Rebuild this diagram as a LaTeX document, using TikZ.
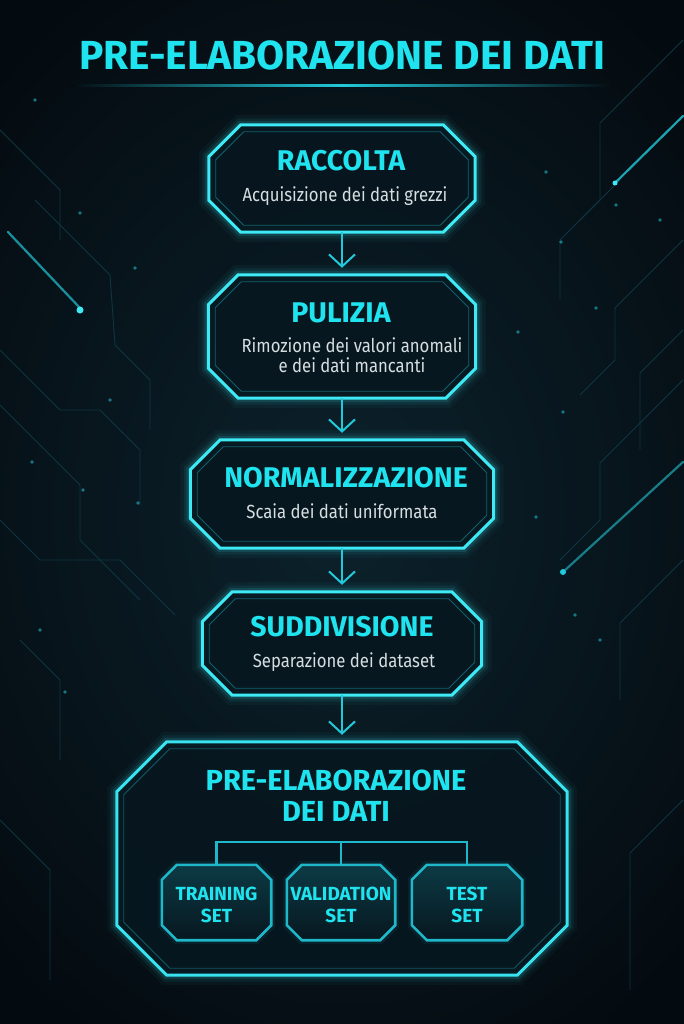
\documentclass[tikz,border=0pt]{standalone}
\usepackage{fontspec}
\setmainfont{Fira Sans}
\newfontfamily\subfont{Fira Sans}[FakeStretch=0.88]
\usetikzlibrary{calc,arrows.meta,positioning}
\definecolor{bgdark}{HTML}{040B10}
\definecolor{bgmid}{HTML}{0C222C}
\definecolor{neon}{HTML}{3DEAF5}
\definecolor{neontext}{HTML}{1FE3EE}
\definecolor{neonarrow}{HTML}{22C9DA}
\definecolor{neondim}{HTML}{1FB8CB}
\definecolor{tracec}{HTML}{0F3542}
\definecolor{boxfill}{HTML}{07171F}
\definecolor{subtext}{HTML}{D6DEE1}
\newcommand{\octdraw}[4]{%
  \path[#1] ($(#2.north west)+({#3+0.414*#4},{#4})$)
    -- ($(#2.north east)+({-#3-0.414*#4},{#4})$)
    -- ($(#2.north east)+({-#4},{#3+0.414*#4})$)
    -- ($(#2.south east)+({-#4},{-#3-0.414*#4})$)
    -- ($(#2.south east)+({-#3-0.414*#4},{-#4})$)
    -- ($(#2.south west)+({#3+0.414*#4},{-#4})$)
    -- ($(#2.south west)+({#4},{-#3-0.414*#4})$)
    -- ($(#2.north west)+({#4},{#3+0.414*#4})$) -- cycle;}
\newcommand{\glowbox}[4]{%
  \foreach \lw/\op in {20/0.04,13/0.07,8/0.12}{\octdraw{draw=#3,line width=\lw pt,opacity=\op}{#1}{#2}{0}}
  \octdraw{fill=boxfill,fill opacity=0.9}{#1}{#2}{0}
  \octdraw{draw=#4,line width=0.8pt}{#1}{#2}{7}
  \octdraw{draw=#3,line width=3pt}{#1}{#2}{0}}
\tikzset{
  stagebox/.style={rectangle, inner sep=0pt, draw=none},
  heading/.style={anchor=base, text=neontext, font=\fontsize{28.5}{30}\selectfont\bfseries},
  desc/.style={anchor=base, text=subtext, align=center, font=\subfont\fontsize{19}{20}\selectfont},
  setlabel/.style={anchor=base, text=neontext, align=center, font=\fontsize{19}{22}\selectfont\bfseries},
  flow/.style={draw=neonarrow, line width=2pt, shorten >=7pt, -{Straight Barb[length=12pt,width=26pt,line width=2pt]}},
  branch/.style={draw=neondim, line width=2.2pt},
  trace/.style={draw=tracec, line width=0.9pt},
  spark/.style={fill=neonarrow, opacity=0.55},
  meteor/.style={line width=2.2pt, line cap=round}
}

\begin{document}
\begin{tikzpicture}[x=1pt, y=-1pt]
    \useasboundingbox (0,0) rectangle (683,1024);
    \shade[inner color=bgmid, outer color=bgdark] (-150,-100) rectangle (833,1124);

    \draw[trace] (35,200) -- (110,275) -- (115,345) -- (150,380) -- (150,430);
    \draw[trace] (0,350) -- (60,410) -- (100,410) -- (140,450) -- (140,505);
    \draw[trace] (0,405) -- (80,485) -- (80,540) -- (140,600);
    \draw[trace] (0,520) -- (40,560) -- (120,560) -- (175,615);
    \draw[trace] (20,640) -- (60,680) -- (60,760);
    \draw[trace] (0,130) -- (60,190) -- (60,240);
    \draw[trace] (0,820) -- (50,870) -- (50,980);
    \draw[trace] (683,40) -- (600,123) -- (600,200) -- (580,220);
    \draw[trace] (560,300) -- (560,240) -- (620,180);
    \draw[trace] (683,240) -- (615,308) -- (615,360) -- (580,395);
    \draw[trace] (683,330) -- (640,373) -- (640,450);
    \draw[trace] (683,380) -- (600,463) -- (600,520) -- (560,560);
    \draw[trace] (683,560) -- (620,623) -- (620,700);
    \draw[trace] (683,800) -- (630,853) -- (630,990);
    \foreach \p in {(35,100),(80,213),(135,268),(110,400),(83,490),(32,462),(40,630),(65,692),(138,503),
                    (616,205),(561,242),(596,308),(518,332),(563,412),(536,517),(546,172),(600,640),(575,615),(660,220)}
      \fill[spark] \p circle (1.8);
    \draw[meteor, draw=neonarrow!70!bgdark] (8,232) -- (80,308);
    \fill[neon] (80,310) circle (3.5);
    \draw[meteor, draw=neonarrow!80!bgdark] (683,116) -- (615,183);
    \fill[neon] (615,183) circle (2.5);
    \draw[meteor, draw=neonarrow!60!bgdark] (683,462) -- (563,572);
    \fill[neonarrow] (563,572) circle (3);

    \node[anchor=base, text=neontext, font=\fontsize{40.6}{44}\selectfont\bfseries] (titolo) at (342,70) {PRE-ELABORAZIONE DEI DATI};
    \shade[left color=bgdark, right color=bgdark, middle color=neonarrow] (70,85) rectangle (614,87);

    \node[stagebox, minimum width=266, minimum height=107] (raccolta) at (342,178.5) {};
    \node[stagebox, minimum width=267, minimum height=123] (pulizia) at (342,336.5) {};
    \node[stagebox, minimum width=303, minimum height=108] (normalizzazione) at (342,494) {};
    \node[stagebox, minimum width=279, minimum height=103] (suddivisione) at (342,643.5) {};
    \node[stagebox, minimum width=450, minimum height=233] (risultato) at (342,858.5) {};
    \node[stagebox, minimum width=109, minimum height=75] (training) at (216.5,902.5) {};
    \node[stagebox, minimum width=108, minimum height=75] (validation) at (341,902.5) {};
    \node[stagebox, minimum width=110, minimum height=75] (test) at (467,902.5) {};

    \glowbox{raccolta}{32}{neon}{neondim!45!boxfill}
    \glowbox{pulizia}{30}{neon}{neondim!45!boxfill}
    \glowbox{normalizzazione}{30}{neon}{neondim!45!boxfill}
    \glowbox{suddivisione}{30}{neon}{neondim!45!boxfill}
    \glowbox{risultato}{50}{neon!85!neondim}{neondim!40!boxfill}

    \foreach \s in {training,validation,test}{
      \octdraw{draw=neondim,line width=8pt,opacity=0.08}{\s}{15}{0}
      \octdraw{top color=neondim!22!boxfill,bottom color=boxfill,draw=neondim,line width=2.6pt}{\s}{15}{0}
    }

    \node[heading] (raccoltaT) at (341,171) {RACCOLTA};
    \node[desc] (raccoltaD) at (345,202) {Acquisizione dei dati grezzi};
    \node[heading] (puliziaT) at (341,322) {PULIZIA};
    \node[desc] (puliziaD) at (352,372) {Rimozione dei valori anomali\\e dei dati mancanti};
    \node[heading] (normalizzazioneT) at (346,487) {NORMALIZZAZIONE};
    \node[desc] (normalizzazioneD) at (342,518) {Scaia dei dati uniformata};
    \node[heading] (suddivisioneT) at (342,636) {SUDDIVISIONE};
    \node[desc] (suddivisioneD) at (344,667) {Separazione dei dataset};
    \node[heading, align=center, font=\fontsize{29}{31}\selectfont\bfseries] (risultatoT) at (336,821) {PRE-ELABORAZIONE\\DEI DATI};
    \node[setlabel] (trainingT) at (216.5,922) {TRAINING\\SET};
    \node[setlabel] (validationT) at (341,922) {VALIDATION\\SET};
    \node[setlabel] (testT) at (467,922) {TEST\\SET};

    \draw[flow] (raccolta.south) -- (pulizia.north);
    \draw[flow] (pulizia.south) -- (normalizzazione.north);
    \draw[flow] (normalizzazione.south) -- (suddivisione.north);
    \draw[flow] (suddivisione.south) -- (risultato.north);

    \coordinate (snodo) at (341,842);
    \draw[branch] (training.north) -- (training.north |- snodo) -- (test.north |- snodo) -- (test.north);
    \draw[branch] (snodo) -- (validation.north);
  \end{tikzpicture}
\end{document}
